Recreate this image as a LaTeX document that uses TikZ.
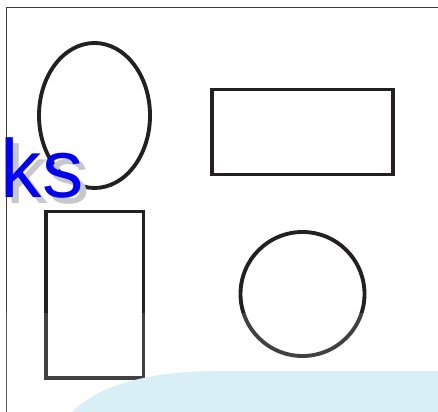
\documentclass[tikz,border=0pt]{standalone}
\usepackage{fontspec}
\newfontfamily\labelfont{Liberation Sans}
\usepackage{xcolor}
\definecolor{shapeblack}{RGB}{34, 32, 33}
\definecolor{framegray}{RGB}{60, 60, 60}
\definecolor{shadowgray}{RGB}{200, 200, 200}
\definecolor{wavecyan}{RGB}{216, 239, 245}

\begin{document}
\begin{tikzpicture}[shape line/.style={draw=shapeblack, line width=2.2pt}]
  \useasboundingbox (0,0) rectangle (8.76,8.24);
  \fill[white] (0,0) rectangle (8.76,8.24);
  % frame
  \draw[framegray, line width=0.7pt] (0.13,0) -- (0.13,8.09) -- (8.76,8.09);
  % shapes
  \draw[shape line] (1.89,5.93) ellipse (1.11 and 1.45);
  \draw[shape line] (4.24,4.75) rectangle (7.86,6.45);
  \draw[shape line] (0.92,0.68) rectangle (2.87,4.01);
  \draw[shape line] (6.05,2.36) circle (1.24);
  % faded lower band and wave
  \fill[white, opacity=0.15] (0,0) rectangle (8.76,1.98);
  \fill[wavecyan] (1.44,0) .. controls (2.0,0.55) and (3.0,0.82) .. (4.4,0.82)
    -- (8.76,0.82) -- (8.76,0) -- cycle;
  % title text
  \node[anchor=base west, inner sep=0pt, text=shadowgray,
    font=\labelfont\fontsize{47}{47}\selectfont] (titleshadow) at (0.13,4.16) {ks};
  \node[anchor=base west, inner sep=0pt, text=blue,
    font=\labelfont\fontsize{47}{47}\selectfont] (title) at (0.01,4.28) {ks};
\end{tikzpicture}
\end{document}
